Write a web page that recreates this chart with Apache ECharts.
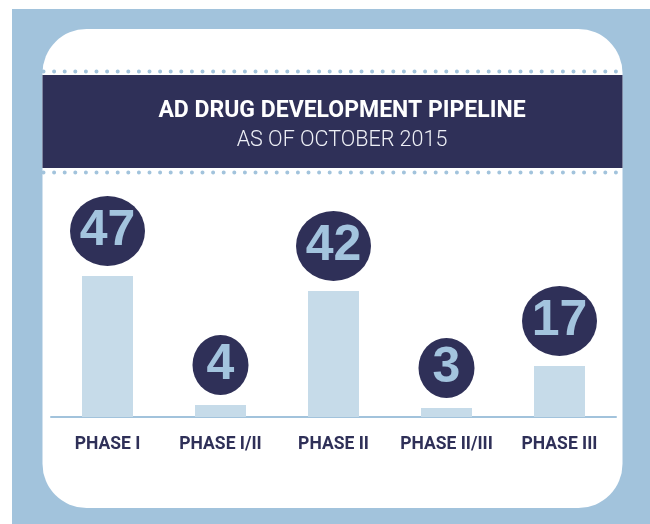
<!DOCTYPE html>
<html><head><meta charset="utf-8">
<script src="https://cdn.jsdelivr.net/npm/echarts/dist/echarts.min.js"></script>
<style>html,body{margin:0;padding:0;background:#fff}#c{width:650px;height:524px}</style>
</head><body><div id="c"></div>
<script>
const categories = ['PHASE I', 'PHASE I/II', 'PHASE II', 'PHASE II/III', 'PHASE III'];
const drugCounts = [47, 4, 42, 3, 17];
const titleText = 'AD DRUG DEVELOPMENT PIPELINE';
const subtitleText = 'AS OF OCTOBER 2015';

const NAVY = '#2f3058';
const LIGHT = '#a2c3dc';
const BAR = '#c6dbe9';
const COND = "Roboto, 'Liberation Sans', sans-serif";

const chart = echarts.init(document.getElementById('c'), null, {renderer: 'canvas'});

function bubbleSize(v) { return String(v).length > 1 ? [75, 70] : [56, 60]; }

chart.setOption({
  animation: false,
  backgroundColor: '#ffffff',
  graphic: [
    {type: 'rect', z: -10, shape: {x: 12, y: 9, width: 638, height: 515}, style: {fill: LIGHT}, silent: true},
    {type: 'rect', z: -9, shape: {x: 42.5, y: 29, width: 580, height: 479, r: 44}, style: {fill: '#ffffff'}, silent: true},
    {type: 'rect', z: -8, shape: {x: 42.5, y: 75, width: 580, height: 93}, style: {fill: NAVY}, silent: true},
    {type: 'line', z: -8, shape: {x1: 43.5, y1: 71.5, x2: 623, y2: 71.5}, style: {stroke: LIGHT, lineWidth: 4, lineCap: 'round', lineDash: [0, 10.6]}, silent: true},
    {type: 'line', z: -8, shape: {x1: 43.5, y1: 172.5, x2: 623, y2: 172.5}, style: {stroke: LIGHT, lineWidth: 4, lineCap: 'round', lineDash: [0, 10.6]}, silent: true}
  ],
  title: {
    text: titleText,
    subtext: subtitleText,
    left: 337,
    top: 95,
    textAlign: 'center',
    itemGap: 7,
    textStyle: {color: '#ffffff', fontFamily: COND, fontWeight: 'bold', fontSize: 23},
    subtextStyle: {color: '#eef0f6', fontFamily: "Roboto, 'Liberation Sans', sans-serif", fontWeight: 300, fontSize: 21.5}
  },
  grid: {left: 51, right: 34, top: 237, bottom: 107, containLabel: false, outerBoundsMode: 'none'},
  xAxis: {
    type: 'category',
    data: categories,
    axisLine: {show: true, lineStyle: {color: LIGHT, width: 2}},
    axisTick: {show: false},
    splitLine: {show: false},
    axisLabel: {color: NAVY, fontFamily: COND, fontWeight: 'bold', fontSize: 17.5, margin: 19, interval: 0}
  },
  yAxis: {type: 'value', min: 0, max: 60, show: false, splitLine: {show: false}},
  series: [
    {
      type: 'bar',
      data: drugCounts,
      barWidth: 51,
      itemStyle: {color: BAR},
      z: 2
    },
    {
      type: 'scatter',
      data: drugCounts.map(v => ({
        value: v,
        symbolSize: bubbleSize(v),
        symbolOffset: [0, -(10 + bubbleSize(v)[1] / 2)]
      })),
      symbol: 'circle',
      itemStyle: {color: NAVY, opacity: 1},
      label: {
        show: true,
        position: 'inside',
        formatter: p => String(p.value),
        color: '#a3c4de',
        fontFamily: "'Liberation Sans', Arial, sans-serif",
        fontWeight: 'bold',
        fontSize: 50
      },
      z: 3
    }
  ]
});
</script>
</body></html>
